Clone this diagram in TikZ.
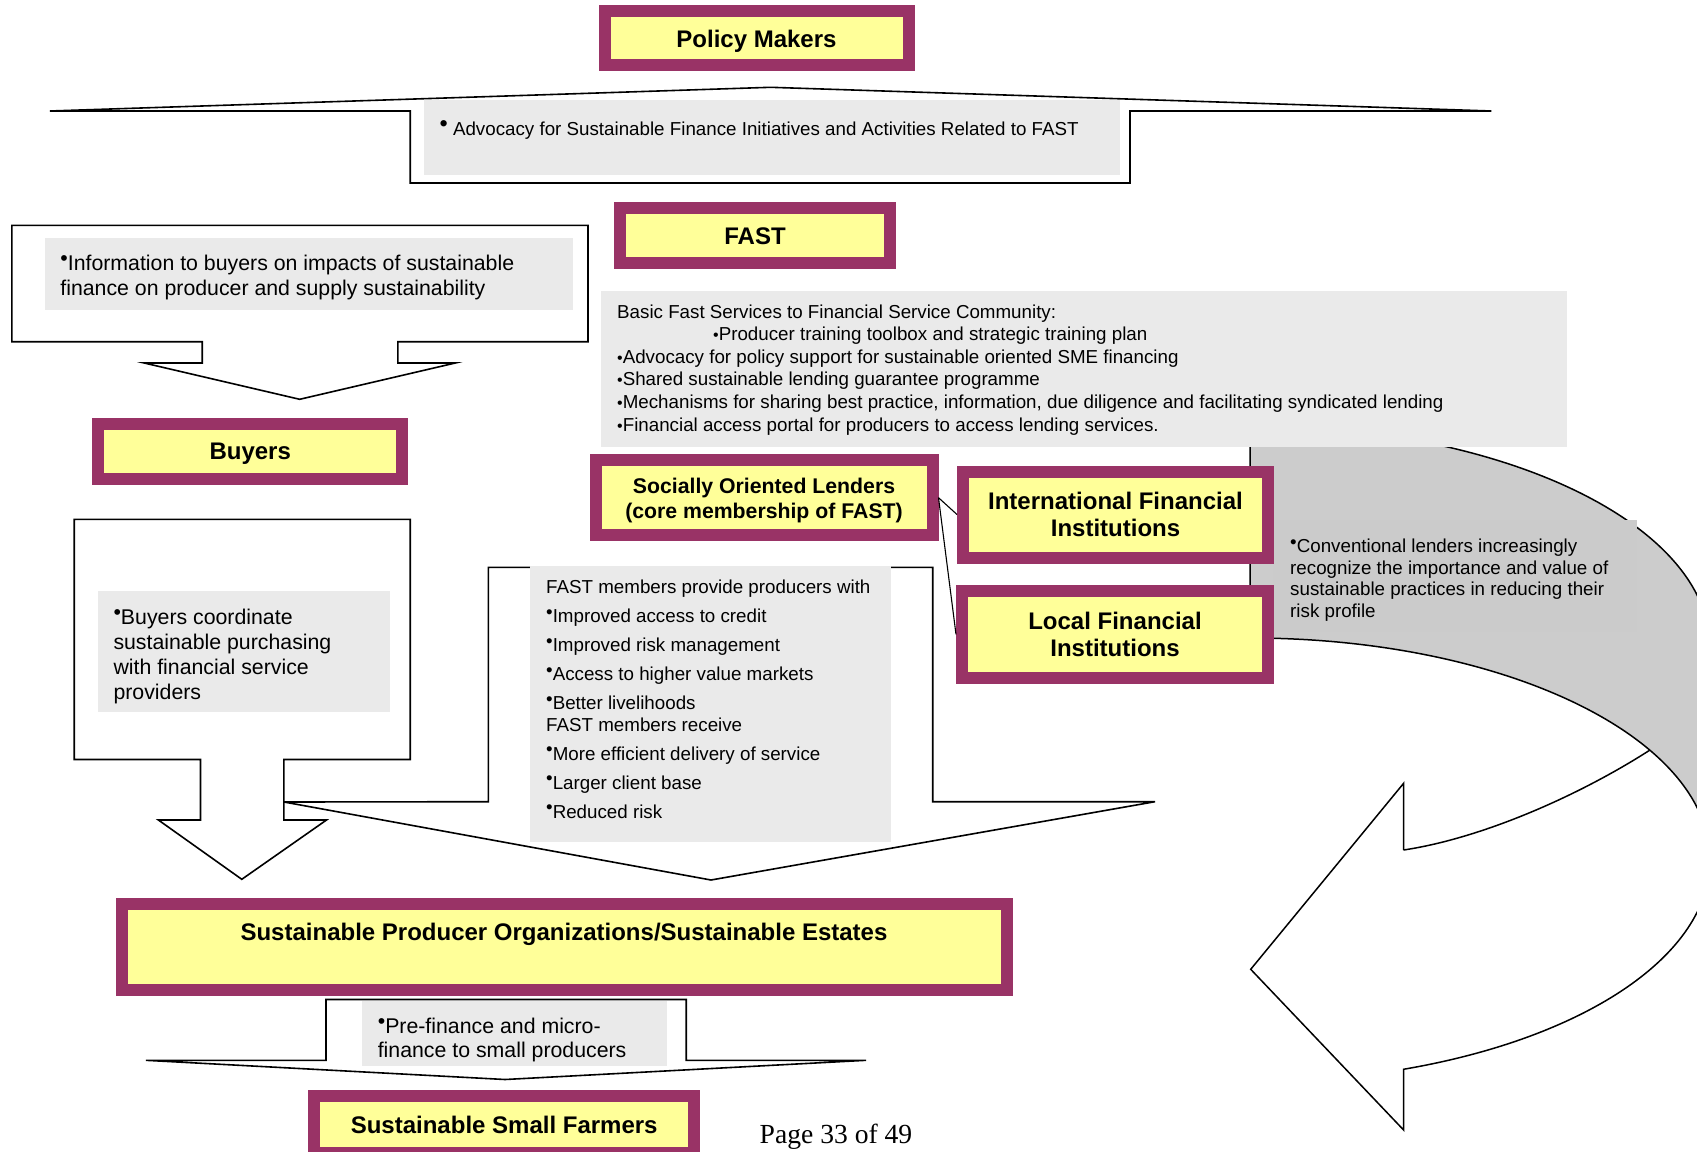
\documentclass[tikz,border=0pt]{standalone}
\usepackage{graphicx}
\usepackage{fontspec}
\newfontfamily\af{Liberation Sans}
\newfontfamily\pf{Liberation Serif}
\definecolor{plum}{RGB}{153,51,102}
\definecolor{lyel}{RGB}{255,255,153}
\definecolor{boxgray}{RGB}{234,234,234}
\definecolor{curvegray}{RGB}{204,204,204}
\definecolor{txtgray}{RGB}{203,203,203}
\newcommand{\hb}{\raisebox{.24em}{•}}
\newcommand{\mb}{\scalebox{.85}{•}}
\newcommand{\dn}[2]{\raisebox{-#1}[\height][\depth]{#2}}
\tikzset{
  titlebox/.style={draw=plum, line width=12pt, fill=lyel, inner sep=0pt, align=center,
    font=\af\fontsize{24}{27}\selectfont\bfseries},
  titlefont/.style={inner sep=0pt, align=center, font=\af\fontsize{24}{27}\selectfont\bfseries},
  blockarrow/.style={draw=black, line width=1.6pt, fill=white, line join=miter},
  curveline/.style={draw=black, line width=1.5pt, line join=miter},
  graypatch/.style={fill=boxgray},
  smalltxt/.style={font=\af\fontsize{18.76}{22.6}\selectfont, inner sep=0pt, align=left, anchor=north west},
  midtxt/.style={font=\af\fontsize{21.3}{25}\selectfont, inner sep=0pt, align=left, anchor=north west},
  thinline/.style={line width=1.1pt}
}
\begin{document}
\begin{tikzpicture}[x=1pt,y=-1pt]
\useasboundingbox (0,0) rectangle (1697,1151);
\clip (0,0) rectangle (1697,1151);

% ---------- curved arrow on the right ----------
\fill[white] (1403.6,850) .. controls (1483.3,838) and (1580,795) .. (1650,750) -- (1710,700) -- (1710,860)
  arc[start angle=0,end angle=70.5,x radius=460,y radius=222] -- (1403.6,1130) -- (1250.7,969.3) -- (1403.6,783.3) -- cycle;
\draw[curveline] (1403.6,850) .. controls (1483.3,838) and (1580,795) .. (1650,750);
\draw[curveline] (1710,860) arc[start angle=0,end angle=70.5,x radius=460,y radius=222]
  -- (1403.6,1130) -- (1250.7,969.3) -- (1403.6,783.3) -- (1403.6,850);
\fill[curvegray] (1250,638) -- (1250,425.5) arc[start angle=-90,end angle=0,x radius=460,y radius=222]
  -- (1710,860) arc[start angle=0,end angle=-90,x radius=460,y radius=222] -- cycle;
\draw[curveline] (1250,638) -- (1250,425.5) arc[start angle=-90,end angle=0,x radius=460,y radius=222];
\draw[curveline] (1710,860) arc[start angle=0,end angle=-90,x radius=460,y radius=222];
\fill[txtgray] (1273.3,520) rectangle (1636.7,631.7);
\node (convtxt) [smalltxt, font=\af\fontsize{18.76}{21.5}\selectfont] at (1290,539)
  {\hb Conventional lenders increasingly\\recognize the importance and value of\\sustainable practices in reducing their\\risk profile};

% ---------- policy makers and advocacy arrow ----------
\node (pm) [titlebox, minimum width=304pt, minimum height=54pt] at (756.5,38.4) {\dn{3pt}{Policy Makers}};
\draw[blockarrow] (49.8,111) -- (770.6,87.3) -- (1491.4,111) -- (1130,111) -- (1130,183)
  -- (410.2,183) -- (410.2,111) -- cycle;
\fill[graypatch] (424.3,100) rectangle (1120.2,175.3);
\node (advtxt) [smalltxt] at (439.4,120.5)
  {\raisebox{.2em}{\scalebox{1.25}{•}}\ Advocacy for Sustainable Finance Initiatives and Activities Related to FAST};

% ---------- FAST ----------
\node (fast) [titlebox, minimum width=270.5pt, minimum height=55pt] at (755,235.8) {FAST};
\fill[graypatch] (601.4,290.7) rectangle (1566.5,447.3);
\node (fasttxt) [smalltxt] at (617,304.4)
  {Basic Fast Services to Financial Service Community:\\
   \hspace*{96pt}\mb Producer training toolbox and strategic training plan\\
   \mb Advocacy for policy support for sustainable oriented SME financing\\
   \mb Shared sustainable lending guarantee programme\\
   \mb Mechanisms for sharing best practice, information, due diligence and facilitating syndicated lending\\
   \mb Financial access portal for producers to access lending services.};

% ---------- buyers information arrow ----------
\draw[blockarrow] (11.9,225.3) -- (588,225.3) -- (588,341.7) -- (397.8,341.7) -- (397.8,363)
  -- (455.3,363) -- (299.7,399.3) -- (144.2,363) -- (202.2,363) -- (202.2,341.7) -- (11.9,341.7) -- cycle;
\fill[graypatch] (45,238) rectangle (573,309.7);
\node (infotxt) [midtxt] at (60.2,255.3)
  {\hb Information to buyers on impacts of sustainable\\finance on producer and supply sustainability};

\node (buyers) [titlebox, minimum width=303.6pt, minimum height=55pt] at (250.2,451.4) {\dn{2.2pt}{Buyers}};

% ---------- lenders ----------
\node (sol) [titlebox, minimum width=337pt, minimum height=75.5pt] at (764,497.7) {};
\node (soltxt) [titlefont, font=\af\fontsize{21.25}{25}\selectfont\bfseries] at (764,500.9)
  {Socially Oriented Lenders\\(core membership of FAST)};
\node (ifi) [titlebox, minimum width=305pt, minimum height=86pt] at (1115.5,514.5)
  {International Financial\\Institutions};
\node (lfi) [titlebox, minimum width=306pt, minimum height=86.2pt] at (1115,634.4)
  {Local Financial\\Institutions};
\draw[thinline] (sol.east) -- (ifi.west);
\draw[thinline] (sol.east) -- (lfi.west);

% ---------- FAST members arrow ----------
\draw[blockarrow] (488.3,567.3) -- (932.7,567.3) -- (932.7,801.7) -- (1155,801.7) -- (711,880)
  -- (284,802) -- (488.3,801.7) -- cycle;
\fill[graypatch] (530,566) rectangle (891,841.7);
\node (memtxt) [smalltxt, font=\af\fontsize{18.76}{21.5}\selectfont] at (546,579.7)
  {FAST members provide producers with\\[7.5pt]
   \hb Improved access to credit\\[7.5pt]
   \hb Improved risk management\\[7.5pt]
   \hb Access to higher value markets\\[7.5pt]
   \hb Better livelihoods\\
   FAST members receive\\[7.5pt]
   \hb More efficient delivery of service\\[7.5pt]
   \hb Larger client base\\[7.5pt]
   \hb Reduced risk};

% ---------- buyers coordinate arrow ----------
\draw[blockarrow] (74.2,519.3) -- (410.2,519.3) -- (410.2,759.5) -- (283.9,759.5) -- (283.9,820)
  -- (326.5,820) -- (241.8,879.3) -- (158.4,820) -- (200.5,820) -- (200.5,759.5) -- (74.2,759.5) -- cycle;
\fill[graypatch] (98,591) rectangle (390.3,711.7);
\node (coordtxt) [midtxt, font=\af\fontsize{21.3}{24.7}\selectfont] at (113.3,609.3)
  {\hb Buyers coordinate\\sustainable purchasing\\with financial service\\providers};

% ---------- producer organizations ----------
\node (spo) [titlebox, minimum width=885pt, minimum height=85.5pt] at (564.5,946.8) {};
\node (spotxt) [titlefont] at (564,934) {Sustainable Producer Organizations/Sustainable Estates};

% ---------- pre-finance arrow ----------
\draw[blockarrow] (326,999.5) -- (686.2,999.5) -- (686.2,1060.3) -- (866,1060.3) -- (505,1079.5)
  -- (145.8,1060.3) -- (326,1060.3) -- cycle;
\fill[graypatch] (362.2,1001) rectangle (667.1,1065.7);
\node (pretxt) [midtxt, font=\af\fontsize{21.3}{24.3}\selectfont] at (377.6,1017.7)
  {\hb Pre-finance and micro-\\finance to small producers};

\node (ssf) [titlebox, minimum width=380.3pt, minimum height=56.6pt] at (504.2,1124.3) {\dn{1pt}{Sustainable Small Farmers}};

\node (page) [inner sep=0pt, font=\pf\fontsize{27.6}{31}\selectfont] at (836,1136.5) {Page 33 of 49};
\end{tikzpicture}
\end{document}
